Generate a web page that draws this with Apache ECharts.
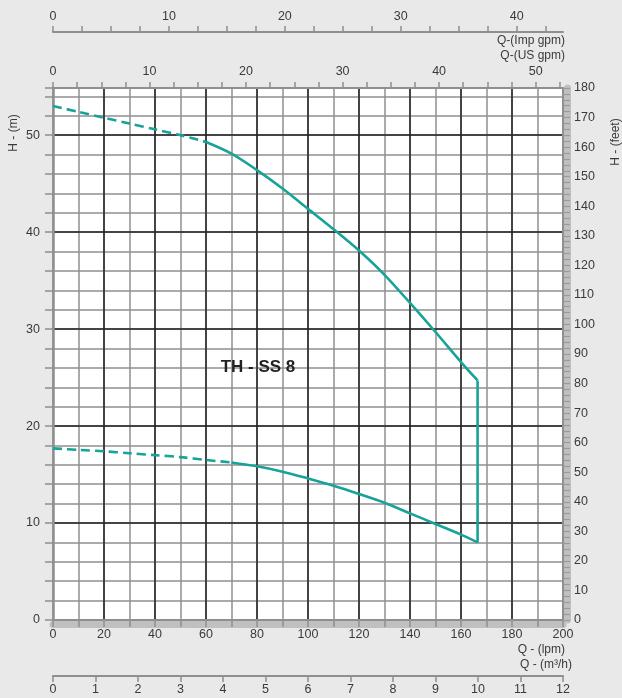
<!DOCTYPE html>
<html>
<head>
<meta charset="utf-8">
<script src="https://cdn.jsdelivr.net/npm/echarts@6/dist/echarts.min.js"></script>
<style>
html,body{margin:0;padding:0;background:#e8e9e8;}
#chart{width:622px;height:698px;}
</style>
</head>
<body>
<div id="chart"></div>
<script>
// ---- Data ----
var upperDashQ = [0, 10, 20, 30, 40, 50, 60];
var upperDashH = [53.0, 52.4, 51.8, 51.2, 50.6, 50.0, 49.3];
var upperSolidQ = [60, 70, 80, 90, 100, 110, 120, 130, 140, 150, 160, 166.5];
var upperSolidH = [49.3, 48.1, 46.4, 44.5, 42.4, 40.3, 38.1, 35.6, 32.7, 29.7, 26.6, 24.7];
var lowerDashQ = [0, 10, 20, 30, 40, 50, 60, 70];
var lowerDashH = [17.7, 17.55, 17.4, 17.2, 17.0, 16.8, 16.5, 16.25];
var lowerSolidQ = [70, 80, 90, 100, 110, 120, 130, 140, 150, 160, 166.5];
var lowerSolidH = [16.25, 15.85, 15.3, 14.6, 13.85, 13.0, 12.1, 11.0, 9.9, 8.8, 8.0];
var endQ = [166.5, 166.5];
var endH = [24.7, 8.0];

// ---- Tick labels ----
var lpmLabels = [0, 20, 40, 60, 80, 100, 120, 140, 160, 180, 200];
var mLabels = [0, 10, 20, 30, 40, 50];
var ftLabels = [0, 10, 20, 30, 40, 50, 60, 70, 80, 90, 100, 110, 120, 130, 140, 150, 160, 170, 180];
var usGpmLabels = [0, 10, 20, 30, 40, 50];
var impGpmLabels = [0, 10, 20, 30, 40];
var m3hLabels = [0, 1, 2, 3, 4, 5, 6, 7, 8, 9, 10, 11, 12];

var LPM_MAX = 200;
var M_MAX = 180 * 0.3048;
var US_MAX = LPM_MAX / 3.785411784;
var IMP_MAX = LPM_MAX / 4.54609;
var M3H_MAX = LPM_MAX * 60 / 1000;

function zip(a, b) { return a.map(function (v, i) { return [v, b[i]]; }); }

var FONT = 'Liberation Sans';
var LBL = {color: '#3a3a3a', fontSize: 12.5, fontFamily: FONT};
var GRAY = '#8f8f8f';
var DARK = '#222222';
var TEAL = '#17a398';

function labelsOnly(arr) {
  return function (v) {
    for (var i = 0; i < arr.length; i++) if (Math.abs(arr[i] - v) < 1e-6) return String(arr[i]);
    return '';
  };
}

var chart = echarts.init(document.getElementById('chart'), null, {renderer: 'canvas'});

var titleStyle = {color: '#3a3a3a', fontSize: 12, fontWeight: 'normal', fontFamily: FONT};

var option = {
  backgroundColor: '#e8e9e8',
  animation: false,
  grid: {left: 53, right: 59, top: 88, bottom: 78, show: true, backgroundColor: '#ffffff', borderWidth: 0},
  title: [
    {text: 'Q-(Imp gpm)', right: 57, top: 35, textStyle: titleStyle, padding: 0},
    {text: 'Q-(US gpm)', right: 57, top: 50, textStyle: titleStyle, padding: 0},
    {text: 'Q - (lpm)', right: 57, top: 644, textStyle: titleStyle, padding: 0},
    {text: 'Q - (m³/h)', right: 50, top: 659, textStyle: titleStyle, padding: 0}
  ],
  graphic: [
    {type: 'text', x: 14, y: 133, rotation: Math.PI / 2,
     style: {text: 'H - (m)', fill: '#3a3a3a', font: '12px ' + FONT, align: 'center', verticalAlign: 'middle'}},
    {type: 'text', x: 616, y: 142, rotation: Math.PI / 2,
     style: {text: 'H - (feet)', fill: '#3a3a3a', font: '12px ' + FONT, align: 'center', verticalAlign: 'middle'}},
    {type: 'text', x: 258, y: 367, z: 100,
     style: {text: 'TH - SS 8', fill: '#222', font: 'bold 17px ' + FONT, align: 'center', verticalAlign: 'middle'}}
  ],
  xAxis: [
    // 0: grey band below plot
    {type: 'value', position: 'bottom', min: 0, max: LPM_MAX, offset: 4, z: 1,
     axisLine: {show: true, onZero: false, lineStyle: {color: '#c0c0c0', width: 7}},
     axisTick: {show: false}, axisLabel: {show: false}, splitLine: {show: false}},
    // 1: lpm minor grid (every 10)
    {type: 'value', position: 'bottom', min: 0, max: LPM_MAX, interval: 10, z: 2,
     axisLine: {show: false, onZero: false},
     axisTick: {show: true, length: 7, lineStyle: {color: GRAY, width: 1.5}},
     axisLabel: {show: false},
     splitLine: {show: true, lineStyle: {color: GRAY, width: 1.5}}},
    // 2: lpm major grid and labels (every 20)
    {type: 'value', position: 'bottom', min: 0, max: LPM_MAX, interval: 20, z: 3,
     axisLine: {show: true, onZero: false, lineStyle: {color: GRAY, width: 2}},
     axisTick: {show: false},
     axisLabel: {show: true, margin: 8, formatter: labelsOnly(lpmLabels), ...LBL},
     splitLine: {show: true, showMinLine: false, showMaxLine: false, lineStyle: {color: DARK, width: 1.5}}},
    // 3: US gpm (top of plot)
    {type: 'value', position: 'top', min: 0, max: US_MAX, interval: 2.5, offset: 0, z: 6,
     axisLine: {show: true, onZero: false, lineStyle: {color: GRAY, width: 2}},
     axisTick: {show: true, length: 6, lineStyle: {color: GRAY, width: 1.5}},
     axisLabel: {show: true, margin: 10, showMaxLabel: false, formatter: labelsOnly(usGpmLabels), ...LBL},
     splitLine: {show: false}},
    // 4: Imp gpm (upper separate scale)
    {type: 'value', position: 'top', min: 0, max: IMP_MAX, interval: 2.5, offset: 56, z: 6,
     axisLine: {show: true, onZero: false, lineStyle: {color: GRAY, width: 2}},
     axisTick: {show: true, length: 6, lineStyle: {color: GRAY, width: 1.5}},
     axisLabel: {show: true, margin: 9, showMaxLabel: false, formatter: labelsOnly(impGpmLabels), ...LBL},
     splitLine: {show: false}},
    // 5: m3/h (lower separate scale)
    {type: 'value', position: 'bottom', min: 0, max: M3H_MAX, interval: 1, offset: 56, z: 6,
     axisLine: {show: true, onZero: false, lineStyle: {color: GRAY, width: 2}},
     axisTick: {show: true, length: 6, lineStyle: {color: GRAY, width: 1.5}},
     axisLabel: {show: true, margin: 7, formatter: labelsOnly(m3hLabels), ...LBL},
     splitLine: {show: false}}
  ],
  yAxis: [
    // 0: grey band right of plot
    {type: 'value', position: 'right', min: 0, max: 180, offset: 4, z: 1,
     axisLine: {show: true, onZero: false, lineStyle: {color: '#c0c0c0', width: 7}},
     axisTick: {show: false}, axisLabel: {show: false}, splitLine: {show: false}},
    // 1: m minor grid (every 2 m)
    {type: 'value', position: 'left', min: 0, max: M_MAX, interval: 2, z: 2,
     axisLine: {show: false, onZero: false},
     axisTick: {show: true, length: 8, lineStyle: {color: GRAY, width: 1.5}},
     axisLabel: {show: false},
     splitLine: {show: true, showMaxLine: false, lineStyle: {color: GRAY, width: 1.5}}},
    // 2: m major grid and labels
    {type: 'value', position: 'left', min: 0, max: M_MAX, interval: 10, z: 6,
     axisLine: {show: true, onZero: false, lineStyle: {color: GRAY, width: 2.5}},
     axisTick: {show: false},
     axisLabel: {show: true, margin: 13, showMaxLabel: false, formatter: labelsOnly(mLabels), ...LBL},
     splitLine: {show: true, showMinLine: false, showMaxLine: false, lineStyle: {color: DARK, width: 1.5}}},
    // 3: feet (right)
    {type: 'value', position: 'right', min: 0, max: 180, interval: 2, offset: 0, z: 6,
     axisLine: {show: true, onZero: false, lineStyle: {color: GRAY, width: 2}},
     axisTick: {show: true, length: 7, lineStyle: {color: '#9a9a9a', width: 1.2}},
     axisLabel: {show: true, margin: 11, formatter: labelsOnly(ftLabels), ...LBL},
     splitLine: {show: false}}
  ],
  series: [
    {type: 'line', name: 'H max (dashed)', xAxisIndex: 2, yAxisIndex: 2, data: zip(upperDashQ, upperDashH),
     showSymbol: false, smooth: 0.3, z: 10,
     lineStyle: {color: TEAL, width: 2.6, type: [9, 5]}},
    {type: 'line', name: 'H max', xAxisIndex: 2, yAxisIndex: 2, data: zip(upperSolidQ, upperSolidH),
     showSymbol: false, smooth: 0.3, z: 10,
     lineStyle: {color: TEAL, width: 2.6}},
    {type: 'line', name: 'H min (dashed)', xAxisIndex: 2, yAxisIndex: 2, data: zip(lowerDashQ, lowerDashH),
     showSymbol: false, smooth: 0.3, z: 10,
     lineStyle: {color: TEAL, width: 2.6, type: [9, 5]}},
    {type: 'line', name: 'H min', xAxisIndex: 2, yAxisIndex: 2, data: zip(lowerSolidQ, lowerSolidH),
     showSymbol: false, smooth: 0.3, z: 10,
     lineStyle: {color: TEAL, width: 2.6}},
    {type: 'line', name: 'Q max', xAxisIndex: 2, yAxisIndex: 2, data: zip(endQ, endH),
     showSymbol: false, z: 10,
     lineStyle: {color: TEAL, width: 2.6}}
  ]
};
chart.setOption(option);
</script>
</body>
</html>
